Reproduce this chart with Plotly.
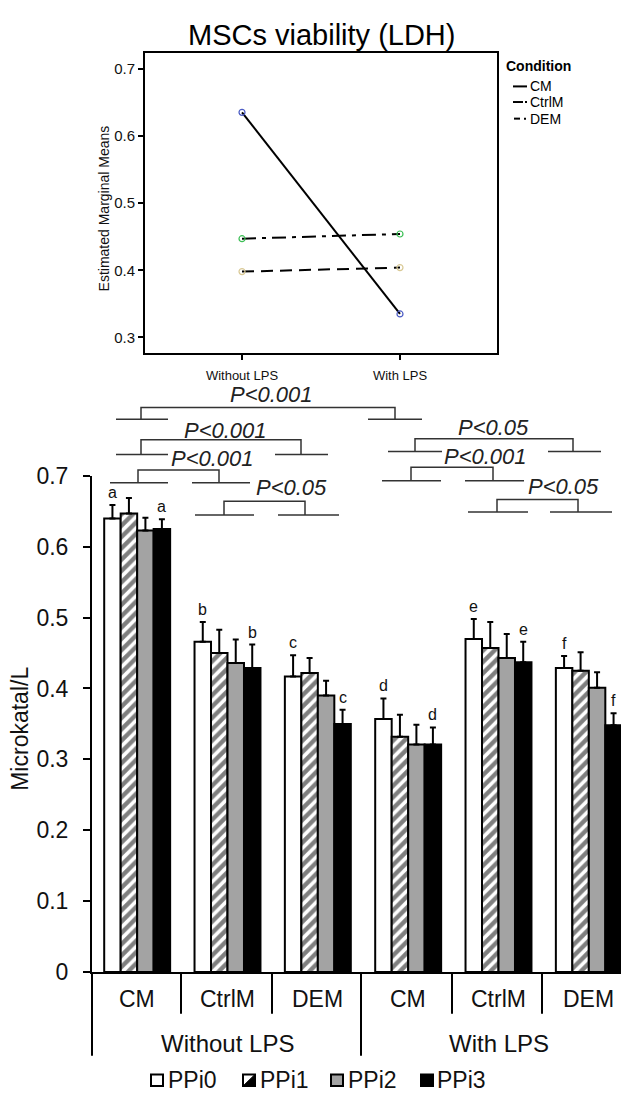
import plotly.graph_objects as go

W, H = 629, 1096
FONT = "Liberation Sans, Arial, sans-serif"


def PX(x):
    return x / W


def PY(y):
    return 1 - y / H


# ---------------- data ----------------
# top panel: estimated marginal means
top_x_labels = ["Without LPS", "With LPS"]
cm_means = [0.635, 0.335]
ctrlm_means = [0.447, 0.454]
dem_means = [0.398, 0.404]
top_yticks = [0.3, 0.4, 0.5, 0.6, 0.7]

# bottom panel: grouped bars
categories = ["CM", "CtrlM", "DEM", "CM", "CtrlM", "DEM"]
lps_groups = ["Without LPS", "With LPS"]
series_names = ["PPi0", "PPi1", "PPi2", "PPi3"]
ppi0 = [0.640, 0.466, 0.417, 0.357, 0.470, 0.429]
ppi0_err = [0.019, 0.028, 0.030, 0.029, 0.028, 0.017]
ppi1 = [0.647, 0.450, 0.422, 0.332, 0.457, 0.425]
ppi1_err = [0.022, 0.033, 0.021, 0.031, 0.037, 0.026]
ppi2 = [0.623, 0.436, 0.390, 0.321, 0.443, 0.401]
ppi2_err = [0.018, 0.033, 0.021, 0.028, 0.034, 0.022]
ppi3 = [0.625, 0.429, 0.350, 0.321, 0.437, 0.348]
ppi3_err = [0.014, 0.033, 0.020, 0.024, 0.029, 0.017]
letters = ["a", "b", "c", "d", "e", "f"]
bottom_yticks = [0, 0.1, 0.2, 0.3, 0.4, 0.5, 0.6, 0.7]
bottom_ytext = ["0", "0.1", "0.2", "0.3", "0.4", "0.5", "0.6", "0.7"]
p_texts = ["P<0.001", "P<0.001", "P<0.001", "P<0.05", "P<0.05", "P<0.001", "P<0.05"]

# ---------------- layout helpers (pixel geometry) ----------------
BRACKETS = [
    # text x, text y, bar y, bar x0, bar x1, drop y, base1, base2
    (263, 383, 396, 133, 387, 408, (108, 160), (360, 414)),
    (217, 419, 429, 133, 293, 444, (108, 160), (267, 320)),
    (204, 448, 460, 130, 211, 473, (102, 160), (184, 242)),
    (283, 478, 492, 216, 297, 506, (187, 246), (270, 331)),
    (485, 416, 428, 407, 565, 441, (380, 434), (540, 593)),
    (477, 446, 457, 403, 485, 471, (374, 433), (457, 516)),
    (555, 477, 490, 489, 570, 503, (460, 520), (542, 604)),
]

fig = go.Figure()

# ---- top panel traces ----
top_x = [0, 1]
fig.add_trace(go.Scatter(x=top_x, y=cm_means, mode="lines+markers", name="CM",
                         line=dict(color="black", width=2, dash="solid"),
                         marker=dict(symbol="circle-open", size=6, color="#4a5bc4",
                                     line=dict(width=1.2)),
                         xaxis="x", yaxis="y"))
fig.add_trace(go.Scatter(x=top_x, y=ctrlm_means, mode="lines+markers", name="CtrlM",
                         line=dict(color="black", width=2, dash="14px,6px,4px,6px"),
                         marker=dict(symbol="circle-open", size=6, color="#3cbf55",
                                     line=dict(width=1.2)),
                         xaxis="x", yaxis="y"))
fig.add_trace(go.Scatter(x=top_x, y=dem_means, mode="lines+markers", name="DEM",
                         line=dict(color="black", width=2, dash="12px,7px"),
                         marker=dict(symbol="circle-open", size=6, color="#d9c995",
                                     line=dict(width=1.2)),
                         xaxis="x", yaxis="y"))

# ---- bottom panel bars ----
xb = list(range(len(categories)))
bar_specs = [
    (ppi0, ppi0_err, dict(color="white")),
    (ppi1, ppi1_err, dict(color="white", pattern=dict(shape="/", fgcolor="black", bgcolor="white",
                                                         size=8, solidity=0.55))),
    (ppi2, ppi2_err, dict(color="#a3a3a3")),
    (ppi3, ppi3_err, dict(color="black")),
]
for name, (vals, errs, mk) in zip(series_names, bar_specs):
    mk = dict(mk)
    mk["line"] = dict(color="black", width=2)
    fig.add_trace(go.Bar(x=xb, y=vals, name=name, marker=mk,
                         error_y=dict(type="data", array=errs, arrayminus=[0] * len(errs),
                                      symmetric=False, color="black", thickness=2, width=3),
                         xaxis="x2", yaxis="y2"))

BARGAP = 0.27
group_w = 1 - BARGAP
bar_w = group_w / 4
off_first = -group_w / 2 + bar_w / 2
off_last = group_w / 2 - bar_w / 2

shapes = []
annotations = []

# title
annotations.append(dict(text="MSCs viability (LDH)", x=PX(313), y=PY(14), xref="paper", yref="paper",
                        showarrow=False, font=dict(family=FONT, size=29, color="black"),
                        xanchor="center", yanchor="middle"))
# top y title
annotations.append(dict(text="Estimated Marginal Means", x=PX(96), y=PY(192), xref="paper", yref="paper",
                        showarrow=False, textangle=-90, font=dict(family=FONT, size=14, color="#111"),
                        xanchor="center", yanchor="middle"))
# top legend
annotations.append(dict(text="<b>Condition</b>", x=PX(496), y=PY(46), xref="paper", yref="paper",
                        showarrow=False, font=dict(family=FONT, size=14, color="black"),
                        xanchor="left", yanchor="middle"))
leg_rows = [("CM", 67), ("CtrlM", 83), ("DEM", 100)]
for lab, yy in leg_rows:
    annotations.append(dict(text=lab, x=PX(520), y=PY(yy), xref="paper", yref="paper",
                            showarrow=False, font=dict(family=FONT, size=14, color="black"),
                            xanchor="left", yanchor="middle"))
ln = dict(color="black", width=2)
shapes.append(dict(type="line", xref="paper", yref="paper", x0=PX(505), x1=PX(519),
                   y0=PY(67), y1=PY(67), line=ln))
shapes.append(dict(type="line", xref="paper", yref="paper", x0=PX(505), x1=PX(515),
                   y0=PY(83), y1=PY(83), line=ln))
shapes.append(dict(type="line", xref="paper", yref="paper", x0=PX(517), x1=PX(519),
                   y0=PY(83), y1=PY(83), line=ln))
shapes.append(dict(type="line", xref="paper", yref="paper", x0=PX(506), x1=PX(512),
                   y0=PY(100), y1=PY(100), line=ln))
shapes.append(dict(type="line", xref="paper", yref="paper", x0=PX(516), x1=PX(518),
                   y0=PY(100), y1=PY(100), line=ln))

# bottom y title
annotations.append(dict(text="Microkatal/L", x=PX(12), y=PY(725), xref="paper", yref="paper",
                        showarrow=False, textangle=-90, font=dict(family=FONT, size=23, color="#111"),
                        xanchor="center", yanchor="middle"))

# category labels and group labels
for i, c in enumerate(categories):
    annotations.append(dict(text=c, x=i, y=PY(1002), xref="x2", yref="paper", showarrow=False,
                            font=dict(family=FONT, size=23, color="#111"),
                            xanchor="center", yanchor="middle"))
for j, g in enumerate(lps_groups):
    annotations.append(dict(text=g, x=1 + 3 * j, y=PY(1047), xref="x2", yref="paper", showarrow=False,
                            font=dict(family=FONT, size=24, color="#111"),
                            xanchor="center", yanchor="middle"))
# separators below x axis
for sx in [173, 264, 444, 534]:
    shapes.append(dict(type="line", xref="paper", yref="paper", x0=PX(sx), x1=PX(sx),
                       y0=PY(974), y1=PY(1017), line=dict(color="black", width=2)))
for sx in [84, 353, 626]:
    shapes.append(dict(type="line", xref="paper", yref="paper", x0=PX(sx), x1=PX(sx),
                       y0=PY(974), y1=PY(1060), line=dict(color="black", width=2)))

# significance letters
for i, L in enumerate(letters):
    top0 = ppi0[i] + ppi0_err[i]
    top3 = ppi3[i] + ppi3_err[i]
    for xo, yt in [(off_first, top0), (off_last, top3)]:
        annotations.append(dict(text=L, x=i + xo, y=yt, xref="x2", yref="y2", showarrow=False,
                                font=dict(family=FONT, size=16, color="#111"),
                                xanchor="center", yanchor="bottom", yshift=2))

# brackets
bl = dict(color="#333333", width=1.5)
for txt, (tx, ty, by, bx0, bx1, dy, b1, b2) in zip(p_texts, BRACKETS):
    annotations.append(dict(text="<i>" + txt + "</i>", x=PX(tx), y=PY(ty), xref="paper", yref="paper",
                            showarrow=False, font=dict(family=FONT, size=22, color="#222"),
                            xanchor="center", yanchor="middle"))
    shapes.append(dict(type="path", xref="paper", yref="paper",
                       path=f"M{PX(bx0)},{PY(dy)} L{PX(bx0)},{PY(by)} L{PX(bx1)},{PY(by)} L{PX(bx1)},{PY(dy)}",
                       line=bl))
    for (a, b) in (b1, b2):
        shapes.append(dict(type="line", xref="paper", yref="paper", x0=PX(a), x1=PX(b),
                           y0=PY(dy), y1=PY(dy), line=bl))

# bottom legend (manual)
leg_box_x = [143, 235, 323, 413]
leg_txt_x = [158, 250, 338, 427]
leg_fill = ["white", "white", "#a3a3a3", "black"]
LY = 1085
for k, name in enumerate(series_names):
    x0 = leg_box_x[k]
    shapes.append(dict(type="rect", xref="paper", yref="paper", x0=PX(x0), x1=PX(x0 + 12),
                       y0=PY(LY + 6), y1=PY(LY - 6), fillcolor=leg_fill[k],
                       line=dict(color="black", width=2)))
    if k == 1:
        shapes.append(dict(type="path", xref="paper", yref="paper",
                           path=f"M{PX(x0 + 12)},{PY(LY - 6)} L{PX(x0 + 12)},{PY(LY + 6)} L{PX(x0)},{PY(LY + 6)} Z",
                           fillcolor="black", line=dict(color="black", width=1)))
    annotations.append(dict(text=name, x=PX(leg_txt_x[k]), y=PY(LY), xref="paper", yref="paper",
                            showarrow=False, font=dict(family=FONT, size=23, color="#111"),
                            xanchor="left", yanchor="middle"))

fig.update_layout(
    width=W, height=H, autosize=False,
    margin=dict(l=0, r=0, t=0, b=0),
    paper_bgcolor="white", plot_bgcolor="white",
    showlegend=False,
    barmode="group", bargap=BARGAP, bargroupgap=0,
    shapes=shapes, annotations=annotations,
    xaxis=dict(domain=[PX(137), PX(489)], range=[-0.614, 1.614], tickvals=top_x,
               ticktext=top_x_labels, ticks="outside", ticklen=5, tickwidth=1.5,
               tickcolor="black", showline=True, linecolor="black", linewidth=2, mirror=True,
               showgrid=False, zeroline=False, anchor="y", ticklabelstandoff=4,
               tickfont=dict(family=FONT, size=13, color="#111")),
    yaxis=dict(domain=[PY(340), PY(33)], range=[0.277, 0.723], tickvals=top_yticks,
               ticktext=[f"{v:.1f}" for v in top_yticks], ticks="outside", ticklen=5, tickwidth=1.5,
               tickcolor="black", showline=True, linecolor="black", linewidth=2, mirror=True,
               showgrid=False, zeroline=False, anchor="x",
               tickfont=dict(family=FONT, size=15, color="#111")),
    xaxis2=dict(domain=[PX(84), PX(626)], range=[-0.5, 5.5], showticklabels=False, ticks="",
                showline=True, linecolor="black", linewidth=2, showgrid=False, zeroline=False,
                anchor="y2"),
    yaxis2=dict(domain=[PY(974), PY(466)], range=[0, 0.7], tickvals=bottom_yticks,
                ticktext=bottom_ytext, ticks="outside", ticklen=7, tickwidth=2, tickcolor="black",
                showline=True, linecolor="black", linewidth=2, showgrid=False, zeroline=False,
                anchor="x2", ticklabelstandoff=10,
                tickfont=dict(family=FONT, size=23, color="#111")),
)

fig.write_html("out.html")
